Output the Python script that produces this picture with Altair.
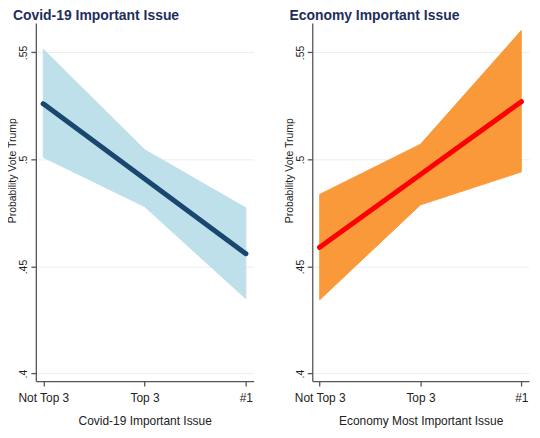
import altair as alt
import pandas as pd

levels = ["Not Top 3", "Top 3", "#1"]
positions = [0, 1, 2]

covid_est = [0.526, 0.491, 0.456]
covid_lo = [0.501, 0.478, 0.435]
covid_hi = [0.5515, 0.5046, 0.4774]

econ_est = [0.459, 0.493, 0.527]
econ_lo = [0.4345, 0.4788, 0.4942]
econ_hi = [0.4837, 0.5071, 0.5602]

y_ticks = [0.4, 0.45, 0.5, 0.55]

FONT = "Liberation Sans"
Y_DOMAIN = [0.3965, 0.5637]

label_expr = " : ".join(
    [f"datum.value == {p} ? '{l}'" for p, l in zip(positions[:-1], levels[:-1])]
) + f" : '{levels[-1]}'"


def panel(est, lo, hi, title, xtitle, band_color, line_color, width):
    df = pd.DataFrame({"pos": positions, "level": levels, "est": est, "lo": lo, "hi": hi})
    x = alt.X(
        "pos:Q",
        scale=alt.Scale(domain=[-0.074, 2.077], nice=False, zero=False),
        axis=alt.Axis(
            values=positions,
            labelExpr=label_expr,
            title=xtitle,
            grid=False,
            tickSize=5,
            labelPadding=7,
            titlePadding=12,
            labelFontSize=12,
            titleFontSize=12,
            titleFontWeight="normal",
        ),
    )
    y = alt.Y(
        "est:Q",
        scale=alt.Scale(domain=Y_DOMAIN, nice=False, zero=False),
        axis=alt.Axis(
            values=y_ticks,
            labelExpr="substring(format(datum.value, '.2~f'), 1)",
            title="Probability Vote Trump",
            labelAngle=270,
            labelAlign="center",
            labelBaseline="bottom",
            labelPadding=2,
            titlePadding=1,
            titleY=148,
            labelFontSize=10.5,
            titleFontSize=10.5,
            titleFontWeight="normal",
            tickSize=5,
            grid=True,
            gridColor="#e6f0f2",
            gridWidth=1,
        ),
    )
    band = alt.Chart(df).mark_area(color=band_color, opacity=1, stroke=band_color, strokeWidth=1).encode(
        x=x, y=alt.Y("lo:Q", scale=alt.Scale(domain=Y_DOMAIN, nice=False, zero=False)), y2="hi:Q"
    )
    line = alt.Chart(df).mark_line(color=line_color, strokeWidth=5, strokeCap="round").encode(x=x, y=y)
    return alt.layer(line, band, line).properties(
        width=width,
        height=360,
        title=alt.TitleParams(
            text=title,
            anchor="start",
            fontSize=14,
            fontWeight="bold",
            color="#1e2e5c",
            font=FONT,
            offset=0,
            dx=5,
        ),
    )


left = panel(covid_est, covid_lo, covid_hi, "Covid-19 Important Issue", "Covid-19 Important Issue",
             "#bde0ea", "#1a476f", 219)
right = panel(econ_est, econ_lo, econ_hi, "Economy Important Issue", "Economy Most Important Issue",
              "#f9993a", "#ff0000", 218)

chart = (
    alt.hconcat(left, right, spacing=28)
    .properties(padding={"left": 0, "top": 0, "right": 0, "bottom": 0}, background="white")
    .configure_view(stroke=None)
    .configure_axis(
        labelFont=FONT,
        titleFont=FONT,
        labelColor="#222222",
        titleColor="#222222",
        domainColor="#555555",
        tickColor="#555555",
        domainWidth=1.3,
        tickWidth=1.3,
    )
)

chart.save("out.html", embed_options={"renderer": "svg", "actions": False})
